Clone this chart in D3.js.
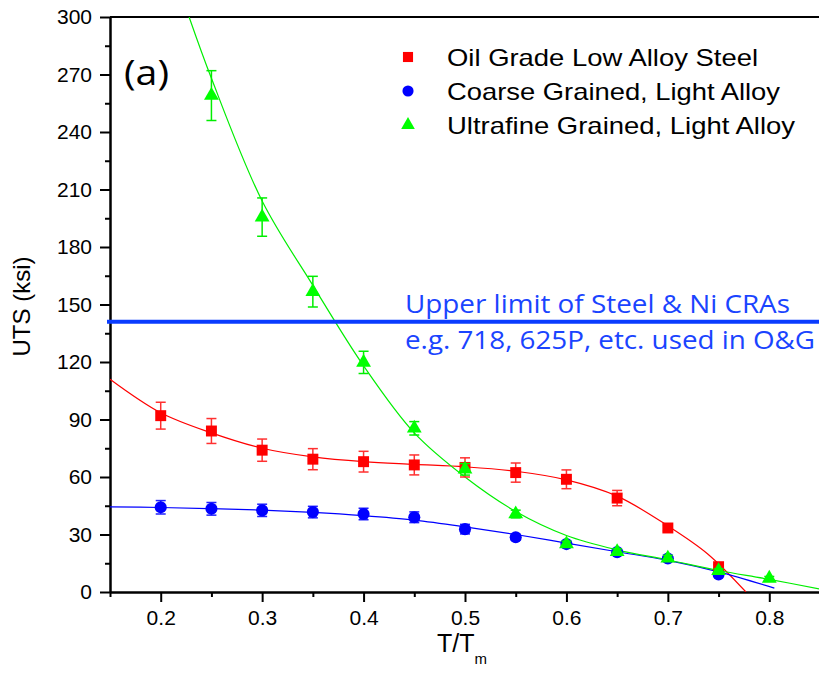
<!DOCTYPE html>
<html>
<head>
<meta charset="utf-8">
<script src="https://cdn.jsdelivr.net/npm/d3@7"></script>
<style>
  body { margin: 0; background: #fff; }
</style>
</head>
<body>
<div id="myChart"></div>
<script>
// measured points (T/Tm, UTS ksi, error)
var tempX = [0.2, 0.25, 0.3, 0.35, 0.4, 0.45, 0.5, 0.55, 0.6, 0.65, 0.7, 0.75];
var oilUts = [92, 84, 74, 69.3, 68, 66.3, 65, 62.3, 58.8, 49, 33.4, 13.2];
var oilErr = [7, 6.5, 5.8, 5.5, 5.4, 5.2, 5, 5, 4.9, 4, 1.5, 1];
var coarseUts = [44.2, 43.4, 42.6, 41.7, 40.7, 39, 32.8, 28.6, 25, 20.8, 17.5, 9.2];
var coarseErr = [3.5, 3.3, 3.2, 3, 3, 2.8, 2.5, 1.5, 1.5, 1, 1, 1];
var ufX = [0.25, 0.3, 0.35, 0.4, 0.45, 0.5, 0.55, 0.6, 0.65, 0.7, 0.75, 0.8];
var ufUts = [259, 195.6, 156.7, 119.8, 85.4, 64, 40.7, 25, 21, 17.6, 11.1, 7.1];
var ufErr = [13, 10, 8, 5.8, 3.5, 3, 2, 1.5, 1.5, 1.5, 1, 1];

// fitted curves
var oilFitX = [0.15, 0.2, 0.25, 0.3, 0.35, 0.4, 0.45, 0.5, 0.55, 0.6, 0.65, 0.7, 0.739, 0.777];
var oilFitY = [111, 93.5, 83, 75, 70.5, 68, 66.6, 65.3, 63, 58.5, 50, 34.5, 20, 0];
var coarseFitX = [0.15, 0.2, 0.25, 0.3, 0.35, 0.4, 0.45, 0.5, 0.55, 0.6, 0.65, 0.7, 0.75, 0.805];
var coarseFitY = [44.4, 44.1, 43.5, 42.7, 41.5, 39.8, 37.5, 34, 30, 25.5, 21, 16.5, 10.5, 2];
var ufFitX = [0.228, 0.25, 0.3, 0.35, 0.4, 0.45, 0.5, 0.55, 0.6, 0.65, 0.7, 0.75, 0.8, 0.85];
var ufFitY = [300, 268, 204, 160, 118, 83, 60, 42, 29.5, 22, 16.7, 11.2, 6.6, 1.5];

var xTicks = [0.2, 0.3, 0.4, 0.5, 0.6, 0.7, 0.8];
var yTicks = [0, 30, 60, 90, 120, 150, 180, 210, 240, 270, 300];
var seriesNames = ["Oil Grade Low Alloy Steel", "Coarse Grained, Light Alloy", "Ultrafine Grained, Light Alloy"];
var limitValue = 141;
var limitText = ["Upper limit of Steel & Ni CRAs", "e.g. 718, 625P, etc. used in O&G"];

const margin = { top: 17, right: 0, bottom: 93, left: 110 };
const width = 710;
const height = 575;
const arial = "'Liberation Sans', Arial, sans-serif";
const calibri = "'Open Sans', 'Noto Sans', sans-serif";

var svg = d3.select("#myChart")
  .append("svg")
  .attr("width", 819)
  .attr("height", 685)
  .style("font-family", arial)
  .append("g")
  .attr("transform", "translate(" + margin.left + "," + margin.top + ")");

var x = d3.scaleLinear().domain([0.15, 0.85]).range([0, width]);
var y = d3.scaleLinear().domain([0, 300]).range([height, 0]);

svg.append("clipPath").attr("id", "clip")
  .append("rect").attr("width", width).attr("height", height);

// minor ticks
var xMinor = d3.range(0.15, 0.86, 0.1);
var yMinor = d3.range(15, 300, 30);

svg.append("g")
  .attr("transform", "translate(0," + height + ")")
  .call(d3.axisBottom(x).tickValues(xMinor).tickSize(5).tickFormat(""))
  .call(g => g.select(".domain").remove())
  .selectAll("line").attr("stroke-width", 2);
svg.append("g")
  .call(d3.axisLeft(y).tickValues(yMinor).tickSize(5).tickFormat(""))
  .call(g => g.select(".domain").remove())
  .selectAll("line").attr("stroke-width", 2);

var xAxis = svg.append("g")
  .attr("transform", "translate(0," + height + ")")
  .call(d3.axisBottom(x).tickValues(xTicks).tickSize(10).tickSizeOuter(0).tickPadding(8).tickFormat(d3.format(".1f")));
xAxis.selectAll("text").style("font-family", arial).attr("font-size", 21).attr("fill", "#000");

var yAxis = svg.append("g")
  .call(d3.axisLeft(y).tickValues(yTicks).tickSize(10).tickSizeOuter(0).tickPadding(8));
yAxis.selectAll("text").style("font-family", arial).attr("font-size", 21).attr("fill", "#000");

[xAxis, yAxis].forEach(function(a) {
  a.select(".domain").attr("stroke-width", 2.5);
  a.selectAll(".tick line").attr("stroke-width", 2);
});

// top frame line
svg.append("line")
  .attr("x1", 0).attr("x2", width)
  .attr("y1", 0).attr("y2", 0)
  .attr("stroke", "#000").attr("stroke-width", 2);

// axis titles
svg.append("text")
  .attr("transform", "translate(-80," + (height / 2 + 2) + ") rotate(-90)")
  .attr("text-anchor", "middle")
  .attr("font-size", 24)
  .text("UTS (ksi)");

var xt = svg.append("text")
  .attr("x", x(0.5) - 28)
  .attr("y", height + 60)
  .attr("font-size", 25);
xt.append("tspan").text("T/T");
xt.append("tspan").attr("font-size", 15).attr("dy", 12).text("m");

svg.append("text")
  .attr("x", 14).attr("y", 68)
  .style("font-family", calibri)
  .attr("font-size", 34)
  .attr("textLength", 45)
  .attr("lengthAdjust", "spacingAndGlyphs")
  .text("(a)");

// fit lines
var line = d3.line()
  .x(function(d) { return x(d[0]); })
  .y(function(d) { return y(d[1]); })
  .curve(d3.curveCatmullRom);

var fits = [
  { xs: oilFitX, ys: oilFitY, color: "#ff0000" },
  { xs: coarseFitX, ys: coarseFitY, color: "#0000ff" },
  { xs: ufFitX, ys: ufFitY, color: "#00ee00" }
];
var plot = svg.append("g").attr("clip-path", "url(#clip)");
fits.forEach(function(f) {
  plot.append("path")
    .datum(d3.zip(f.xs, f.ys))
    .attr("d", line)
    .attr("fill", "none")
    .attr("stroke", f.color)
    .attr("stroke-width", 1.2);
});

// points with error bars
var groups = [
  { xs: tempX, ys: oilUts, es: oilErr, color: "#ff0000", err: "#ff3030", shape: d3.symbolSquare, size: 120 },
  { xs: tempX, ys: coarseUts, es: coarseErr, color: "#0000ff", err: "#2020ff", shape: d3.symbolCircle, size: 115 },
  { xs: ufX, ys: ufUts, es: ufErr, color: "#00ff00", err: "#00ee00", shape: d3.symbolTriangle, size: 95 }
];

groups.forEach(function(gr) {
  var data = gr.xs.map(function(v, i) { return { x: v, y: gr.ys[i], e: gr.es[i] }; });
  var g = svg.append("g");
  var eb = g.selectAll(".eb").data(data).enter().append("g")
    .attr("stroke", gr.err).attr("stroke-width", 1.5);
  eb.append("line")
    .attr("x1", d => x(d.x)).attr("x2", d => x(d.x))
    .attr("y1", d => y(d.y + d.e)).attr("y2", d => y(d.y - d.e));
  eb.append("line")
    .attr("x1", d => x(d.x) - 5).attr("x2", d => x(d.x) + 5)
    .attr("y1", d => y(d.y + d.e)).attr("y2", d => y(d.y + d.e));
  eb.append("line")
    .attr("x1", d => x(d.x) - 5).attr("x2", d => x(d.x) + 5)
    .attr("y1", d => y(d.y - d.e)).attr("y2", d => y(d.y - d.e));
  g.selectAll(".pt").data(data).enter().append("path")
    .attr("d", d3.symbol().type(gr.shape).size(gr.size))
    .attr("transform", d => "translate(" + x(d.x) + "," + y(d.y) + ")")
    .attr("fill", gr.color);
});

// upper limit line
svg.append("line")
  .attr("x1", -3).attr("x2", width)
  .attr("y1", y(limitValue)).attr("y2", y(limitValue))
  .attr("stroke", "#0a3cff").attr("stroke-width", 4);

svg.selectAll(".limtxt").data(limitText).enter().append("text")
  .attr("x", 295)
  .attr("y", (d, i) => i === 0 ? y(limitValue) - 9 : y(limitValue) + 27)
  .style("font-family", calibri)
  .attr("font-size", 25)
  .attr("fill", "#1a44ff")
  .attr("textLength", (d, i) => i === 0 ? 385 : 410)
  .attr("lengthAdjust", "spacingAndGlyphs")
  .text(d => d);

// legend
var legendWidths = [311, 333, 348];
var legend = svg.append("g").attr("transform", "translate(298,40)");
groups.forEach(function(gr, i) {
  var row = legend.append("g").attr("transform", "translate(0," + (i * 34) + ")");
  row.append("path")
    .attr("d", d3.symbol().type(gr.shape).size(gr.size * 0.85))
    .attr("fill", gr.color);
  row.append("text")
    .attr("x", 39).attr("y", 9)
    .attr("font-size", 24)
    .attr("textLength", legendWidths[i])
    .attr("lengthAdjust", "spacingAndGlyphs")
    .text(seriesNames[i]);
});
</script>
</body>
</html>
